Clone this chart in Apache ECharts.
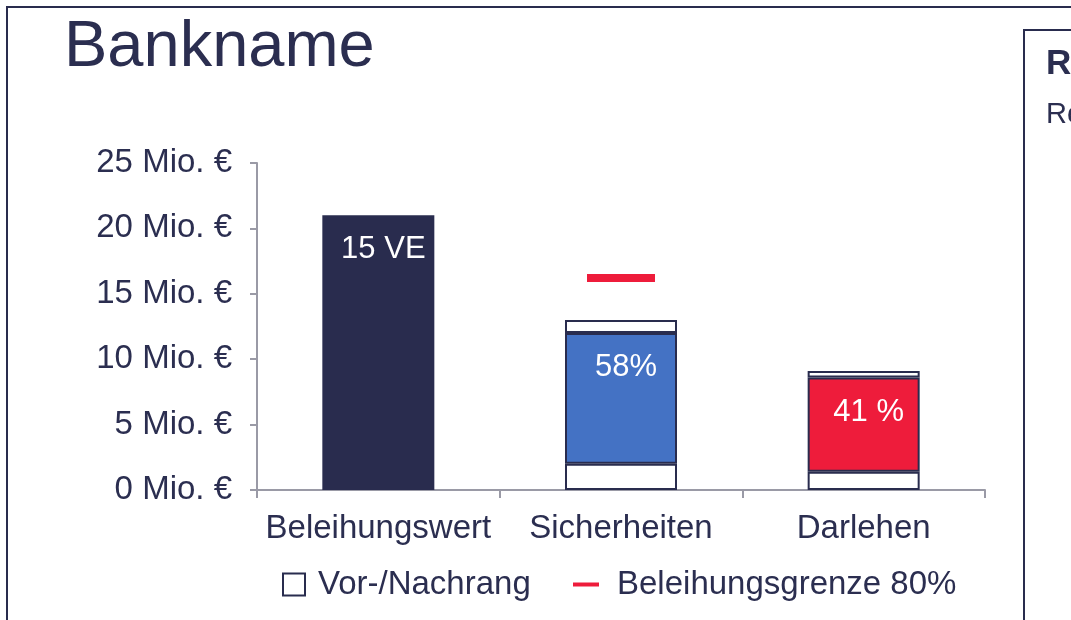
<!DOCTYPE html>
<html>
<head>
<meta charset="utf-8">
<script src="https://cdn.jsdelivr.net/npm/echarts@6/dist/echarts.min.js"></script>
<style>
  html, body { margin: 0; padding: 0; background: #fff; }
  #chart { width: 1071px; height: 620px; }
</style>
</head>
<body>
<div id="chart"></div>
<script>
// data
var categories = ['Beleihungswert', 'Sicherheiten', 'Darlehen'];
var rankBelow = ['-', 2, 1.4];        // Vor-/Nachrang (unten)
var mainValues = [21, 10, 7.2];       // Beleihungswert / Sicherheiten / Darlehen
var rankAbove = ['-', 1, 0.5];        // Vor-/Nachrang (oben)
var mainLabels = ['15 VE', '58%', '41 %'];
var limitValues = ['-', 16.2, '-'];   // Beleihungsgrenze 80%
var yTicks = [0, 25, 5];              // min, max, interval

var navy = '#292c4e';
var textColor = '#2b2e50';
var red = '#ee1c3b';
var fontFam = '"Liberation Sans", Arial, sans-serif';
var mainColors = [navy, '#4472c4', red];

var chart = echarts.init(document.getElementById('chart'));

option = {
    backgroundColor: '#fff'
    , animation: false
    , title: {
        text: 'Bankname'
        , left: 59
        , top: 11
        , textStyle: { color: textColor, fontFamily: fontFam, fontSize: 65, fontWeight: 'normal' }
    }
    , graphic: [
        { type: 'rect', shape: { x: 7, y: 7, width: 1200, height: 800 },
          style: { fill: 'none', stroke: navy, lineWidth: 2 } }
        , { type: 'rect', shape: { x: 1024, y: 30, width: 200, height: 800 },
          style: { fill: 'none', stroke: navy, lineWidth: 2 } }
        , { type: 'text', left: 1046, top: 47,
          style: { text: 'R', fill: textColor, font: 'bold 35px ' + fontFam } }
        , { type: 'text', left: 1046, top: 100,
          style: { text: 'Re', fill: textColor, font: '29px ' + fontFam } }
    ]
    , legend: [
        {
            data: ['Vor-/Nachrang']
            , left: 277
            , top: 563
            , icon: 'rect'
            , itemWidth: 22
            , itemHeight: 22
            , textStyle: { color: textColor, fontFamily: fontFam, fontSize: 33, padding: [0, 0, 0, 8] }
        }
        , {
            data: ['Beleihungsgrenze 80%']
            , left: 568
            , top: 563
            , icon: 'rect'
            , itemWidth: 26
            , itemHeight: 4
            , itemStyle: { opacity: 1 }
            , textStyle: { color: textColor, fontFamily: fontFam, fontSize: 33, padding: [0, 0, 0, 13] }
        }
    ]
    , grid: { left: 257, right: 86, top: 163, bottom: 130, containLabel: false }
    , xAxis: {
        type: 'category'
        , data: categories
        , axisLine: { lineStyle: { color: '#9a9aa6', width: 2 } }
        , axisTick: { show: true, length: 8, lineStyle: { color: '#9a9aa6', width: 2 } }
        , axisLabel: { color: textColor, fontFamily: fontFam, fontSize: 33, margin: 22, interval: 0 }
    }
    , yAxis: {
        type: 'value'
        , min: yTicks[0]
        , max: yTicks[1]
        , interval: yTicks[2]
        , splitLine: { show: false }
        , axisLine: { show: true, lineStyle: { color: '#9a9aa6', width: 2 } }
        , axisTick: { show: true, length: 7, lineStyle: { color: '#9a9aa6', width: 2 } }
        , axisLabel: { color: textColor, fontFamily: fontFam, fontSize: 33, margin: 25,
                       formatter: '{value} Mio. €' }
    }
    , series: [
        {
            name: 'Vor-/Nachrang'
            , type: 'bar'
            , stack: 'total'
            , barWidth: 112
            , data: rankBelow
            , itemStyle: { color: '#fff', borderColor: navy, borderWidth: 2 }
        }
        , {
            name: 'Anteil'
            , type: 'bar'
            , stack: 'total'
            , barWidth: 112
            , data: mainValues.map(function (v, i) {
                return { value: v, itemStyle: { color: mainColors[i],
                         borderColor: navy, borderWidth: i === 0 ? 0 : 2 } };
            })
            , label: {
                show: true
                , position: 'insideTop'
                , distance: 19
                , offset: [5, 0]
                , color: '#fff'
                , fontFamily: fontFam
                , fontSize: 31
                , formatter: function (p) { return mainLabels[p.dataIndex]; }
            }
        }
        , {
            name: 'Vor-/Nachrang'
            , type: 'bar'
            , stack: 'total'
            , barWidth: 112
            , data: rankAbove
            , itemStyle: { color: '#fff', borderColor: navy, borderWidth: 2 }
        }
        , {
            name: 'Beleihungsgrenze 80%'
            , type: 'scatter'
            , symbol: 'rect'
            , symbolSize: [68, 8]
            , data: limitValues
            , itemStyle: { color: red, opacity: 1 }
            , z: 5
        }
    ]
};

chart.setOption(option, true);
</script>
</body>
</html>
